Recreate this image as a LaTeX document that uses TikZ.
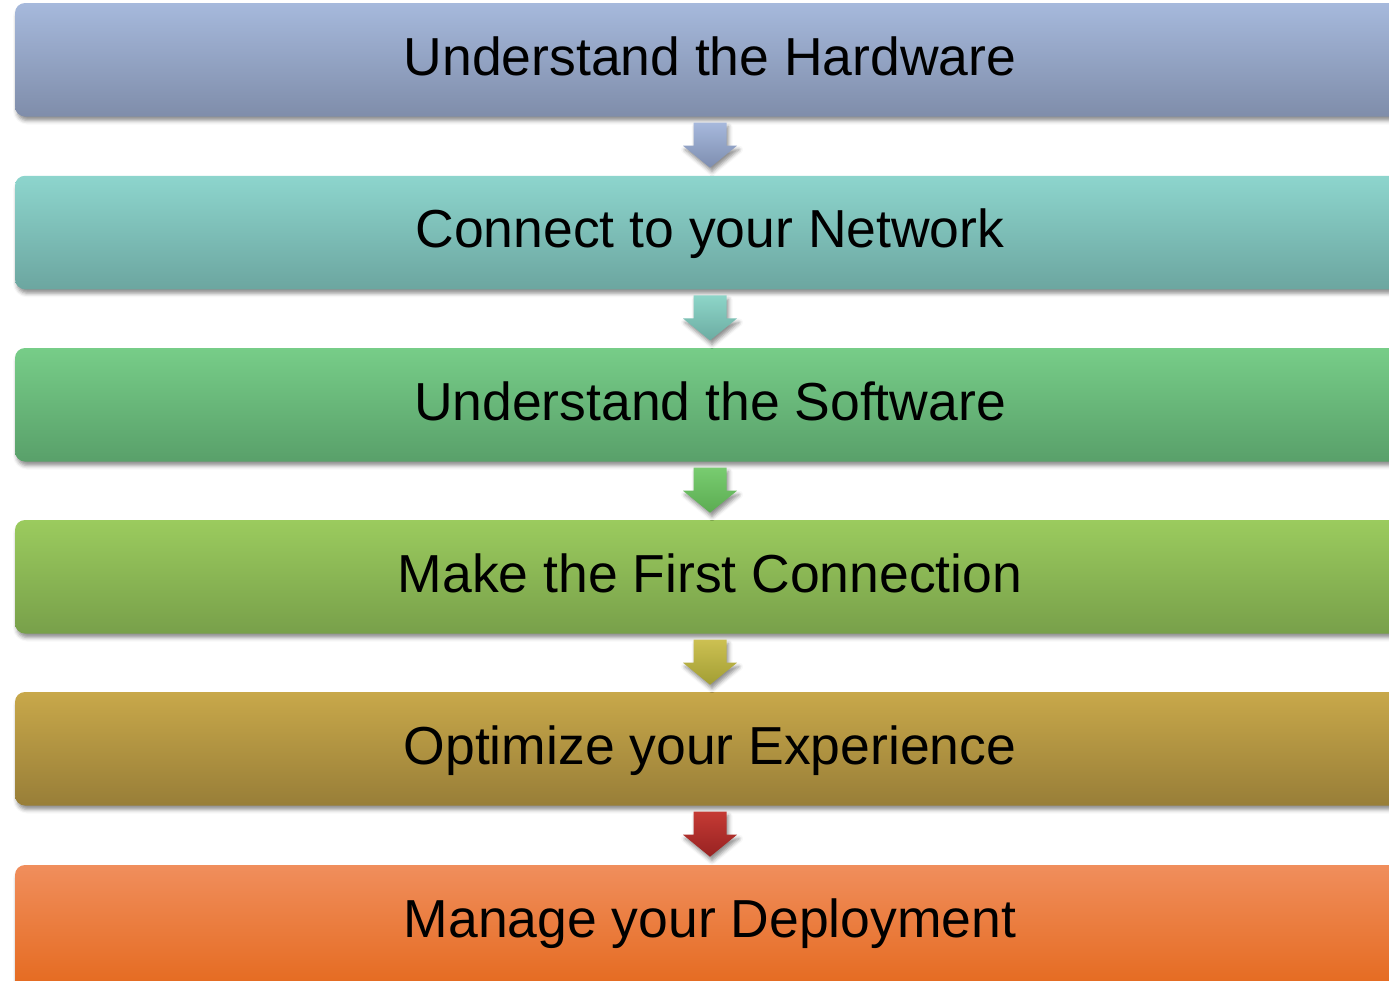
\documentclass[tikz,border=0pt]{standalone}
\usepackage{fontspec}
\setmainfont{Liberation Sans}
\usetikzlibrary{calc,shadows.blur}
\definecolor{aT}{RGB}{166,185,220}\definecolor{aB}{RGB}{127,141,170}
\definecolor{bT}{RGB}{141,213,205}\definecolor{bB}{RGB}{108,166,160}
\definecolor{cT}{RGB}{119,205,136}\definecolor{cB}{RGB}{89,160,106}
\definecolor{dT}{RGB}{155,203,94}\definecolor{dB}{RGB}{120,160,74}
\definecolor{eT}{RGB}{200,168,74}\definecolor{eB}{RGB}{152,126,56}
\definecolor{fT}{RGB}{240,142,92}\definecolor{fM}{RGB}{243,125,45}\definecolor{fB}{RGB}{228,104,28}
\definecolor{arAT}{RGB}{166,184,220}\definecolor{arAB}{RGB}{126,142,176}
\definecolor{arBT}{RGB}{141,213,200}\definecolor{arBB}{RGB}{108,172,162}
\definecolor{arCT}{RGB}{120,204,112}\definecolor{arCB}{RGB}{92,172,82}
\definecolor{arDT}{RGB}{204,192,82}\definecolor{arDB}{RGB}{162,158,52}
\definecolor{arET}{RGB}{196,58,52}\definecolor{arEB}{RGB}{152,34,34}
\tikzset{
  stepbox/.style={rounded corners=10pt, minimum width=1390pt, minimum height=113.5pt,
    inner sep=0pt, text height=40pt, text depth=9.5pt,
    font=\fontsize{53.5}{60}\selectfont, text=black,
    blur shadow={shadow xshift=2pt, shadow yshift=-4pt, shadow blur radius=4pt, shadow opacity=45}},
  arrowshape/.style={blur shadow={shadow xshift=2pt, shadow yshift=-4pt, shadow blur radius=4pt, shadow opacity=45}}
}
\newcommand{\downarrowfrom}[3]{%
  \path[arrowshape, top color=#2, bottom color=#3]
    ($(#1.south)+(-16.5,6)$) -- ($(#1.south)+(16.5,6)$) -- ($(#1.south)+(16.5,29)$)
    -- ($(#1.south)+(27,29)$) -- ($(#1.south)+(0,51)$) -- ($(#1.south)+(-27,29)$)
    -- ($(#1.south)+(-16.5,29)$) -- cycle;}
\begin{document}
\begin{tikzpicture}[x=1pt,y=-1pt]
\useasboundingbox (0,0) rectangle (1389,980);
\clip (0,0) rectangle (1389,980);
\node[stepbox, top color=aT, bottom color=aB] (b1) at (710,59.75) {Understand the Hardware};
\node[stepbox, top color=bT, bottom color=bB] (b2) at (710,232.5) {Connect to your Network};
\node[stepbox, top color=cT, bottom color=cB] (b3) at (710,404.75) {Understand the Software};
\node[stepbox, top color=dT, bottom color=dB] (b4) at (710,576.75) {Make the First Connection};
\node[stepbox, top color=eT, bottom color=eB] (b5) at (710,748.75) {Optimize your Experience};
\node[stepbox, minimum height=130pt, text depth=26pt, top color=fT, middle color=fM, bottom color=fB] (b6) at (710,930) {Manage your Deployment};
\downarrowfrom{b1}{arAT}{arAB}
\downarrowfrom{b2}{arBT}{arBB}
\downarrowfrom{b3}{arCT}{arCB}
\downarrowfrom{b4}{arDT}{arDB}
\downarrowfrom{b5}{arET}{arEB}
\end{tikzpicture}
\end{document}
